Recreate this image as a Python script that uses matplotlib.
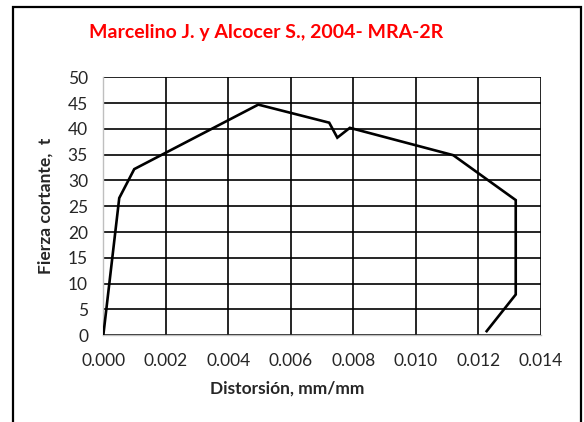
import matplotlib
matplotlib.use('Agg')
import matplotlib.pyplot as plt
from matplotlib.patches import Rectangle

# Curva envolvente fuerza cortante vs distorsion (MRA-2R)
distorsion = [0.0, 0.00051, 0.00099, 0.00496, 0.00723, 0.00749, 0.00789,
              0.01120, 0.01320, 0.01320, 0.01227]
fuerza = [0.0, 26.6, 32.2, 44.7, 41.2, 38.3, 40.2, 34.9, 26.2, 7.9, 0.8]

x_ticks = [0.000, 0.002, 0.004, 0.006, 0.008, 0.010, 0.012, 0.014]
y_ticks = list(range(0, 51, 5))

plt.rcParams['font.family'] = ['Lato', 'DejaVu Sans']

fig = plt.figure(figsize=(5.84, 4.22), dpi=100)
ax = fig.add_axes([0.1769, 0.2055, 0.749, 0.6114])

ax.plot(distorsion, fuerza, color='black', linewidth=1.9, solid_joinstyle='miter', zorder=3)

ax.set_xlim(0, 0.014)
ax.set_ylim(0, 50)
ax.set_xticks(x_ticks)
ax.set_xticklabels([f'{v:.3f}' for v in x_ticks])
ax.set_yticks(y_ticks)
ax.tick_params(length=0, labelsize=12.5, colors='#262626', pad=13)
ax.tick_params(axis='y', pad=11)

ax.grid(True, color='black', linewidth=1.2)
for side in ['top', 'right']:
    ax.spines[side].set_visible(False)
for side in ['left', 'bottom']:
    ax.spines[side].set_color('#bfbfbf')
    ax.spines[side].set_linewidth(1.0)

fig.text(0.456, 0.924, 'Marcelino J. y Alcocer S., 2004- MRA-2R', color='red',
         fontsize=14, fontweight='bold', ha='center', va='center')
fig.text(0.491, 0.08, 'Distorsión, mm/mm', fontsize=12.5, fontweight='bold',
         color='#262626', ha='center', va='center')
fig.text(0.078, 0.512, 'Fierza cortante,  t', fontsize=12.5, fontweight='bold',
         color='#262626', ha='center', va='center', rotation=90)

# marco exterior
fig.patches.append(Rectangle((13 / 584, -0.05), (581 - 13) / 584, 1.05 - 7 / 422,
                             transform=fig.transFigure, fill=False,
                             edgecolor='black', linewidth=1.6))

fig.savefig('out.png', dpi=100)
